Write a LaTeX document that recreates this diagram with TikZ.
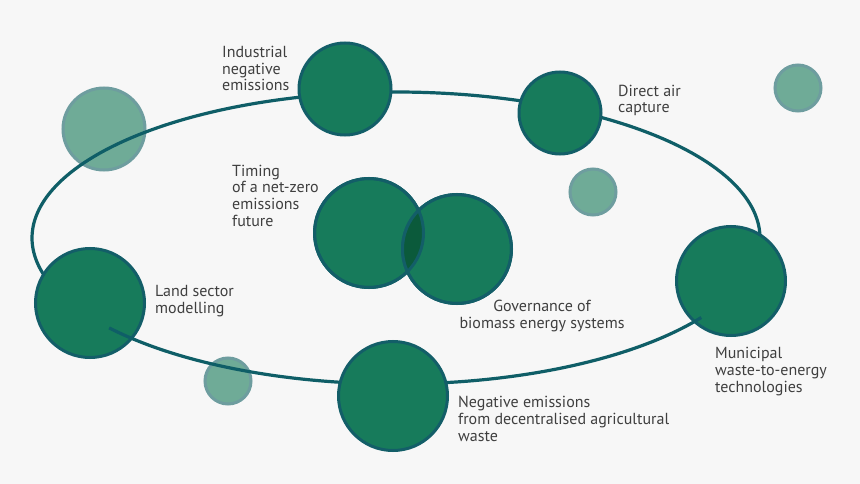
\documentclass[tikz,border=0pt]{standalone}
\usepackage{fontspec}
\setmainfont{PT Sans}
\definecolor{bgc}{HTML}{F7F7F7}
\definecolor{fillc}{HTML}{177B5B}
\definecolor{ringc}{HTML}{135E68}
\definecolor{orbitc}{HTML}{0F5E67}
\definecolor{lensc}{HTML}{0B5A3B}
\definecolor{lightfill}{HTML}{6FAB97}
\definecolor{lightring}{HTML}{6E9D9F}
\definecolor{txt}{HTML}{3F3F3F}
\begin{document}
\begin{tikzpicture}[x=1pt,y=-1pt,
  dark/.style={circle, draw=ringc, line width=3pt, fill=fillc, inner sep=0pt, outer sep=0pt},
  light/.style={circle, draw=lightring, line width=3pt, fill=lightfill, inner sep=0pt, outer sep=0pt},
  lbltxt/.style={font=\fontsize{16}{16.6}\selectfont, text=txt, inner sep=0pt},
  lbl/.style={lbltxt, align=left, anchor=base west},
  orbit/.style={draw=orbitc, line width=3.2pt}]
\fill[bgc] (0,0) rectangle (860,484);
\useasboundingbox (0,0) rectangle (860,484);
% light circles
\node[light, minimum size=82pt] (l1) at (104,129) {};
\node[light, minimum size=46pt] (l2) at (798,88) {};
\node[light, minimum size=46pt] (l3) at (593,192) {};
\node[light, minimum size=46pt] (l4) at (228,381) {};
% upper orbit (behind the circles)
\draw[orbit] plot[domain=160:375, samples=120, smooth] ({396+364*cos(\x)}, {238+146*sin(\x)});
% dark circles
\node[dark, minimum size=92pt] (ind) at (345,89) {};
\node[dark, minimum size=82pt] (dac) at (560,113) {};
\node[dark, minimum size=109pt] (land) at (90,303) {};
\node[dark, minimum size=109pt] (mun) at (731,281) {};
\node[dark, minimum size=109pt] (tim) at (369,233) {};
\node[dark, minimum size=109pt] (gov) at (457,249) {};
\begin{scope}
  \clip (tim.center) circle[radius=54.5pt];
  \fill[lensc] (gov.center) circle[radius=54.5pt];
\end{scope}
\draw[ringc, line width=3pt] (tim.center) circle[radius=54.5pt];
\draw[ringc, line width=3pt] (gov.center) circle[radius=54.5pt];
% lower orbit (over land and municipal circles)
\draw[orbit] plot[domain=33:142, samples=100, smooth] ({396+364*cos(\x)}, {238+146*sin(\x)});
\node[dark, minimum size=109pt] (neg) at (393,396) {};
% labels (anchored at the baseline of their last line)
\node[lbl] (tind) at (222,91) {Industrial\\negative\\emissions};
\node[lbl] (ttim) at (232,226) {Timing\\of a net-zero\\emissions\\future};
\node[lbl] (tdac) at (618,113) {Direct air\\capture};
\node[lbl] (tland) at (155,313) {Land sector\\modelling};
\node[lbltxt, align=center, anchor=base] (tgov) at (542,328) {Governance of\\biomass energy systems};
\node[lbl] (tmun) at (715,392) {Municipal\\waste-to-energy\\technologies};
\node[lbl] (tneg) at (458,441) {Negative emissions\\from decentralised agricultural\\waste};
\end{tikzpicture}
\end{document}
